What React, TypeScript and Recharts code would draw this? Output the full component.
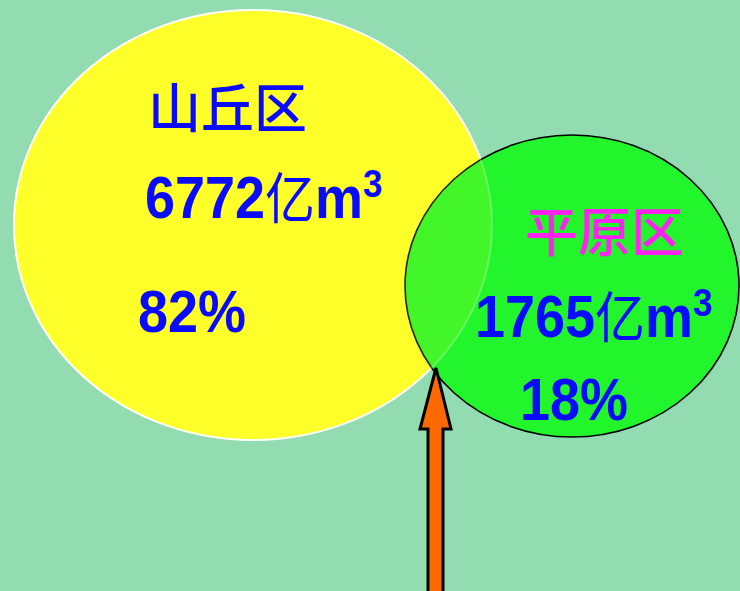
import { Scatter, ScatterChart, XAxis, YAxis } from "recharts";

document.body.style.margin = "0";

const regions = ["山丘区", "平原区"];
const volumes = [6772, 1765];
const shares = [82, 18];

// ellipse centres and radii, in chart units (1 unit = 1px)
const centerX = [253, 572];
const centerY = [225, 286];
const radiusX = [239, 167];
const radiusY = [215, 151];

const fills = ["#ffff2a", "#22f52b"];
const strokes = ["#ffffff", "#000000"];

const arrowTip = [{ x: 436, y: 368 }];

const W = 740;
const H = 591;

const CJK = "'Noto Sans CJK SC', sans-serif";
const LAT = "'Liberation Sans', Arial, sans-serif";

const circles = regions.map((name, i) => ({
  name,
  x: centerX[i],
  y: centerY[i],
  rx: radiusX[i],
  ry: radiusY[i],
  fill: fills[i],
  stroke: strokes[i],
}));

// text anchors (left edge, baseline)
const titleX = [148, 525];
const titleY = [128, 252];
const volX = [145, 475];
const volY = [218, 337];
const pctX = [138, 520];
const pctY = [332, 420];
const titleColors = ["#0a0aff", "#ff22f0"];

const titles = regions.map((name, i) => ({ x: titleX[i], y: titleY[i], name, color: titleColors[i] }));
const vols = volumes.map((v, i) => ({ x: volX[i], y: volY[i], v }));
const pcts = shares.map((v, i) => ({ x: pctX[i], y: pctY[i], v }));

const Ellipse = (p: any) => (
  <ellipse
    cx={p.cx}
    cy={p.cy}
    rx={p.payload.rx}
    ry={p.payload.ry}
    fill={p.payload.fill}
    stroke={p.payload.stroke}
    strokeWidth={p.payload.name === regions[0] ? 2 : 1.6}
  />
);

const Wash = (p: any) =>
  p.payload.name === regions[0] ? (
    <ellipse
      cx={p.cx}
      cy={p.cy}
      rx={p.payload.rx}
      ry={p.payload.ry}
      fill={p.payload.fill}
      fillOpacity={0.15}
      stroke="#ffffff"
      strokeOpacity={0.25}
      strokeWidth={2}
    />
  ) : null;

const Arrow = (p: any) => {
  const x = p.cx;
  const y = p.cy;
  const pts = [
    [x, y],
    [x + 15, y + 61],
    [x + 7, y + 61],
    [x + 7, H + 10],
    [x - 8, H + 10],
    [x - 8, y + 61],
    [x - 16, y + 61],
  ]
    .map((q) => q.join(","))
    .join(" ");
  return <polygon points={pts} fill="#ff6a00" stroke="#000" strokeWidth={3} strokeLinejoin="miter" />;
};

const Title = (p: any) => (
  <text x={p.cx} y={p.cy} fill={p.payload.color} fontFamily={CJK} fontSize={53} fontWeight={500}>
    {p.payload.name}
  </text>
);

const Volume = (p: any) => (
  <text
    transform={`translate(${p.cx},${p.cy}) scale(1,1.1)`}
    fill="#0a0aff"
    fontFamily={LAT}
    fontWeight="bold"
    fontSize={54}
  >
    <tspan>{p.payload.v}</tspan>
    <tspan fontFamily={CJK} fontWeight={400} fontSize={50}>
      亿
    </tspan>
    <tspan>m</tspan>
    <tspan fontSize={35} dy={-19}>
      3
    </tspan>
  </text>
);

const Pct = (p: any) => (
  <text
    transform={`translate(${p.cx},${p.cy}) scale(1,1.1)`}
    fill="#0a0aff"
    fontFamily={LAT}
    fontWeight="bold"
    fontSize={54}
  >
    {p.payload.v}%
  </text>
);

export default function App() {
  return (
    <div style={{ width: W, height: H, background: "#93dcb2", overflow: "hidden" }}>
      <ScatterChart width={W} height={H} margin={{ top: 0, right: 0, bottom: 0, left: 0 }}>
        <XAxis type="number" dataKey="x" domain={[0, W]} hide />
        <YAxis type="number" dataKey="y" domain={[0, H]} reversed hide />
        <Scatter data={circles} shape={Ellipse} isAnimationActive={false} />
        <Scatter data={circles} shape={Wash} isAnimationActive={false} />
        <Scatter data={arrowTip} shape={Arrow} isAnimationActive={false} />
        <Scatter data={titles} shape={Title} isAnimationActive={false} />
        <Scatter data={vols} shape={Volume} isAnimationActive={false} />
        <Scatter data={pcts} shape={Pct} isAnimationActive={false} />
      </ScatterChart>
    </div>
  );
}
